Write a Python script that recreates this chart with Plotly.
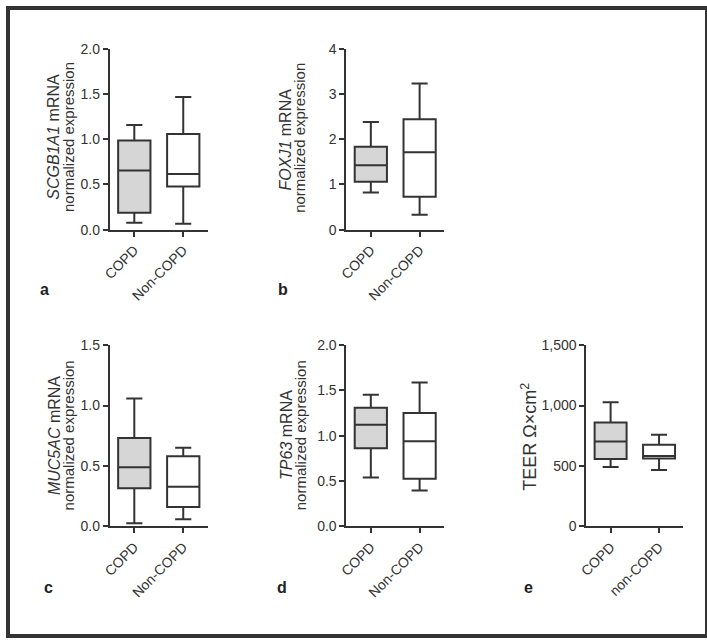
import plotly.graph_objects as go

W, H = 707, 644

groups_std = ["COPD", "Non-COPD"]
groups_e = ["COPD", "non-COPD"]

# box stats: [lower whisker, q1, median, q3, upper whisker] per group
scgb1a1_copd = [0.075, 0.187, 0.653, 0.984, 1.156]
scgb1a1_non = [0.065, 0.478, 0.614, 1.056, 1.465]
foxj1_copd = [0.819, 1.056, 1.422, 1.831, 2.377]
foxj1_non = [0.330, 0.725, 1.709, 2.442, 3.232]
muc5ac_copd = [0.027, 0.317, 0.489, 0.731, 1.059]
muc5ac_non = [0.059, 0.161, 0.328, 0.581, 0.651]
tp63_copd = [0.541, 0.864, 1.122, 1.308, 1.452]
tp63_non = [0.398, 0.527, 0.939, 1.251, 1.588]
teer_copd = [492, 559, 702, 860, 1027]
teer_non = [468, 562, 583, 675, 758]

panels = [
    dict(letter="a", groups=groups_std, data=[scgb1a1_copd, scgb1a1_non], yrange=[0, 2], dtick=0.5, fmt=".1f",
         title=["<i>SCGB1A1</i> mRNA", "normalized expression"]),
    dict(letter="b", groups=groups_std, data=[foxj1_copd, foxj1_non], yrange=[0, 4], dtick=1, fmt="d",
         title=["<i>FOXJ1</i> mRNA", "normalized expression"]),
    dict(letter="c", groups=groups_std, data=[muc5ac_copd, muc5ac_non], yrange=[0, 1.5], dtick=0.5, fmt=".1f",
         title=["<i>MUC5AC</i> mRNA", "normalized expression"]),
    dict(letter="d", groups=groups_std, data=[tp63_copd, tp63_non], yrange=[0, 2], dtick=0.5, fmt=".1f",
         title=["<i>TP63</i> mRNA", "normalized expression"]),
    dict(letter="e", groups=groups_e, data=[teer_copd, teer_non], yrange=[0, 1500], dtick=500, fmt=",",
         title=["TEER Ω×cm<sup>2</sup>"]),
]

# pixel layout (left, right, top, bottom) of each plot area
boxes_px = [
    (103, 202, 41.7, 227.3),
    (342.3, 441, 41.7, 227.3),
    (103, 202, 345.7, 531.7),
    (342.3, 441, 345.7, 531.7),
    (585, 683, 345.7, 531.7),
]
title_px = [
    [(46.5, 132), (61, 132)],
    [(281, 135), (295.5, 133)],
    [(46.5, 438), (61, 438)],
    [(281, 438), (295.5, 438)],
    [(526.7, 440)],
]
title_sizes = [16, 15]
letter_px = [(36.7, 289), (278.5, 289), (40.7, 594), (276.7, 594), (526.7, 594)]

LINE = "#333333"
FONT = "Liberation Sans, Arial, sans-serif"
fills = ["#d6d6d6", "#ffffff"]

fig = go.Figure()
annotations = []
for i, (p, bx) in enumerate(zip(panels, boxes_px)):
    n = "" if i == 0 else str(i + 1)
    xa, ya = "x" + n, "y" + n
    for g, d, fc in zip(p["groups"], p["data"], fills):
        fig.add_trace(go.Box(
            x=[g], lowerfence=[d[0]], q1=[d[1]], median=[d[2]], q3=[d[3]], upperfence=[d[4]],
            fillcolor=fc, line=dict(color=LINE, width=2), whiskerwidth=0.5, width=0.66,
            boxpoints=False, showlegend=False, hoverinfo="skip",
            xaxis=xa, yaxis=ya,
        ))
    l, r, t, b = bx
    fig.layout["xaxis" + n] = dict(
        domain=[l / W, r / W], anchor=ya, type="category", categoryorder="array",
        categoryarray=p["groups"], range=[-0.5, 1.5], showline=True, linecolor=LINE, linewidth=2,
        ticks="outside", ticklen=5, tickwidth=2, tickcolor=LINE, tickangle=-45,
        tickfont=dict(family=FONT, size=14, color=LINE), showgrid=False, zeroline=False,
        fixedrange=True,
    )
    fig.layout["yaxis" + n] = dict(
        domain=[1 - b / H, 1 - t / H], anchor=xa, range=p["yrange"], dtick=p["dtick"],
        tick0=0, tickformat=p["fmt"], showline=True, linecolor=LINE, linewidth=2,
        ticks="outside", ticklen=5, tickwidth=2, tickcolor=LINE,
        tickfont=dict(family=FONT, size=14, color=LINE), showgrid=False, zeroline=False,
        fixedrange=True,
    )
    for k, (txt, (tx, ty)) in enumerate(zip(p["title"], title_px[i])):
        annotations.append(dict(
            text=txt, x=tx / W, y=1 - ty / H, xref="paper", yref="paper", textangle=-90,
            xanchor="center", yanchor="middle", showarrow=False,
            font=dict(family=FONT, size=18 if i == 4 else title_sizes[k], color=LINE),
        ))
    lx, ly = letter_px[i]
    annotations.append(dict(
        text="<b>%s</b>" % p["letter"], x=lx / W, y=1 - ly / H, xref="paper", yref="paper",
        xanchor="center", yanchor="middle", showarrow=False,
        font=dict(family=FONT, size=16, color="#222222"),
    ))

fig.update_layout(
    width=W, height=H, margin=dict(l=0, r=0, t=0, b=0),
    paper_bgcolor="white", plot_bgcolor="white",
    annotations=annotations,
    shapes=[dict(type="rect", xref="paper", yref="paper", x0=0, y0=0, x1=1, y1=1,
                 line=dict(color="#333333", width=4))],
)

page_css = (
    "document.documentElement.style.margin='0';"
    "document.documentElement.style.padding='0';"
    "document.documentElement.style.overflow='hidden';"
    "document.body.style.margin='0';document.body.style.padding='0';"
    "document.body.style.overflow='hidden';"
    "var gd=document.getElementById('{plot_id}');"
    "gd.style.position='absolute';gd.style.left='0px';gd.style.top='0px';"
)

fig.write_html("out.html", config={"displayModeBar": False}, post_script=page_css)
